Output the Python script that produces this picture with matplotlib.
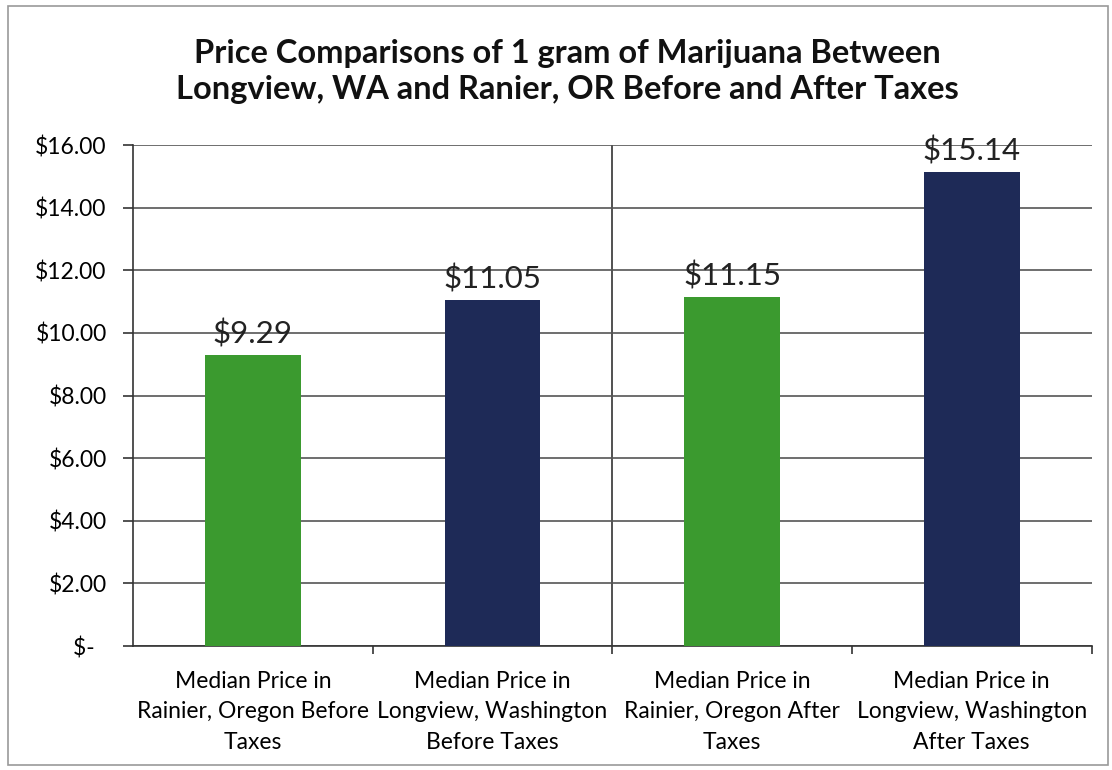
import matplotlib.pyplot as plt
from matplotlib.patches import Rectangle

plt.rcParams['font.family'] = ['Lato', 'DejaVu Sans']

# ------------------------------------------------------------
# Data
# ------------------------------------------------------------
categories = [
    "Median Price in\nRainier, Oregon Before\nTaxes",
    "Median Price in\nLongview, Washington\nBefore Taxes",
    "Median Price in\nRainier, Oregon After\nTaxes",
    "Median Price in\nLongview, Washington\nAfter Taxes",
]
prices = [9.29, 11.05, 11.15, 15.14]
bar_colors = ['#3b9a2f', '#1e2a57', '#3b9a2f', '#1e2a57']
yticks = [0, 2, 4, 6, 8, 10, 12, 14, 16]
ytick_labels = ['$-  ', '$2.00', '$4.00', '$6.00', '$8.00', '$10.00',
                '$12.00', '$14.00', '$16.00']

title = ("Price Comparisons of 1 gram of Marijuana Between\n"
         "Longview, WA and Ranier, OR Before and After Taxes")

# ------------------------------------------------------------
# Plot
# ------------------------------------------------------------
fig = plt.figure(figsize=(11.12, 7.70), dpi=100)
ax = fig.add_axes([0.1196, 0.161, 0.862, 0.6506])

x = list(range(len(prices)))
ax.bar(x, prices, width=0.4, color=bar_colors, zorder=3)

for xi, p in zip(x, prices):
    ax.text(xi, p + 0.2, f"${p:.2f}", ha='center', va='bottom',
            fontsize=22.5, color='#222222', zorder=4)

ax.set_xlim(-0.5, 3.5)
ax.set_ylim(0, 16)
ax.set_yticks(yticks)
ax.set_yticklabels(ytick_labels, fontsize=16.5)
ax.grid(axis='y', color='#555555', lw=1.2, zorder=0)
ax.axvline(1.5, color='#333333', lw=1.2, zorder=1)

ax.set_xticks(x)
ax.set_xticklabels(categories, fontsize=16.5, linespacing=1.55)
ax.tick_params(axis='x', length=0, pad=18)
ax.set_xticks([0.5, 1.5, 2.5, 3.5], minor=True)
ax.tick_params(axis='x', which='minor', length=6, width=1.2, color='#333333')
ax.tick_params(axis='y', length=7, width=1.2, color='#333333', pad=12)

for side in ['top', 'right']:
    ax.spines[side].set_visible(False)
for side in ['left', 'bottom']:
    ax.spines[side].set_color('#333333')
    ax.spines[side].set_linewidth(1.2)

fig.text(0.51, 0.907, title, ha='center', va='center', fontsize=23.5,
         fontweight='bold', color='#111111', linespacing=1.3)

# thin border round the chart area
fig.patches.append(Rectangle((0.007, 0.006), 0.989, 0.986, transform=fig.transFigure,
                             fill=False, edgecolor='#999999', lw=1.2))

fig.savefig('out.png', dpi=100)
